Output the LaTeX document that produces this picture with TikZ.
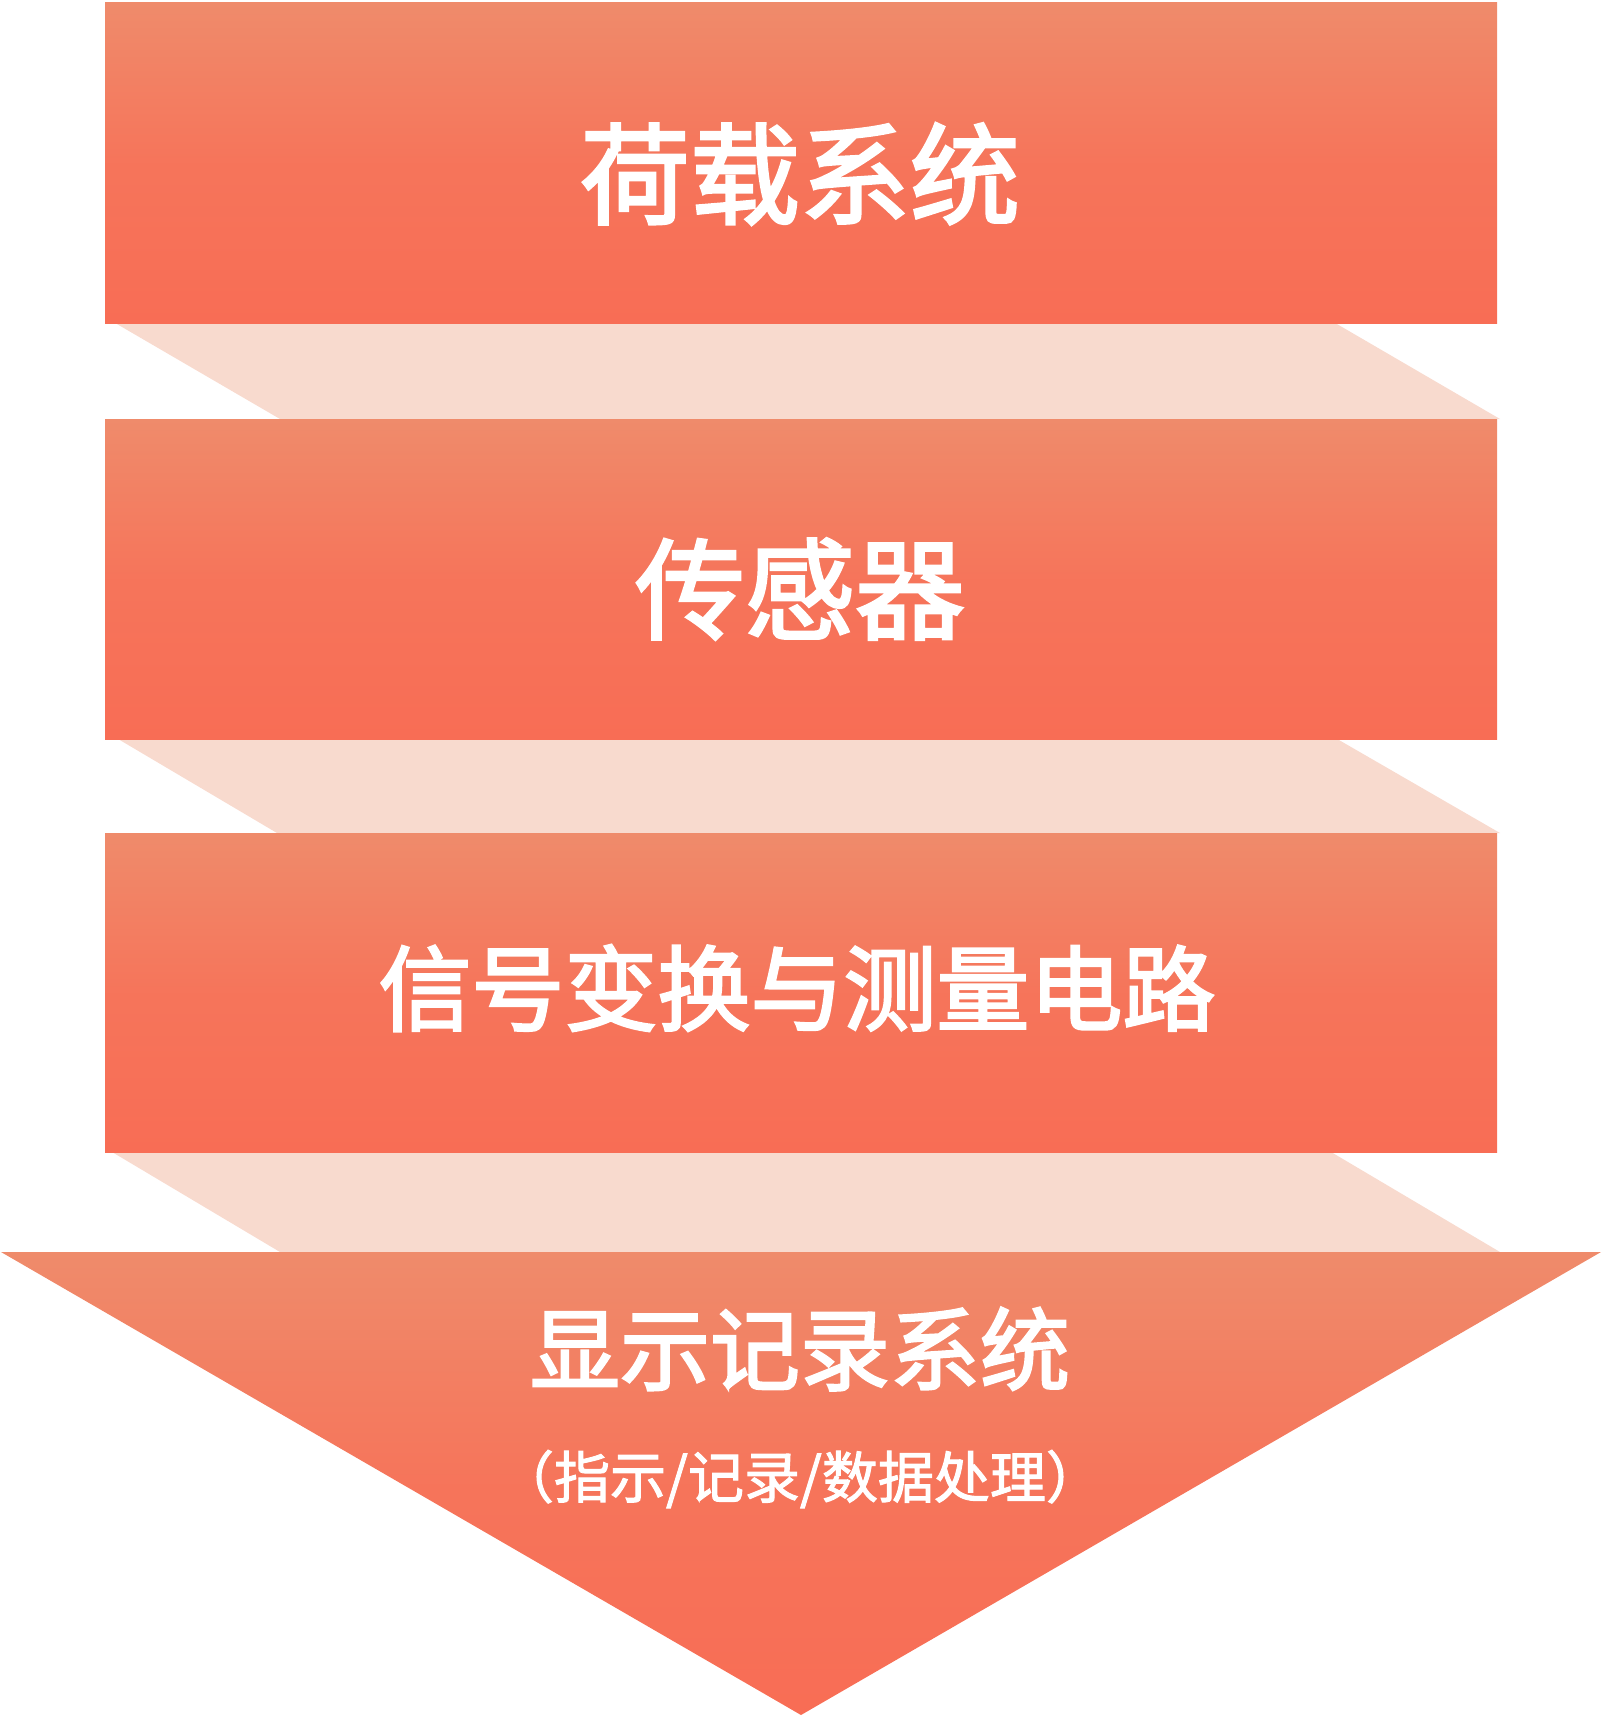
\documentclass[tikz,border=0pt]{standalone}
\usepackage{fontspec}
\newfontfamily\cjk{Noto Sans CJK SC}[FakeBold=2.5]
\newfontfamily\cjksub{Noto Sans CJK SC}[FakeBold=1.8]
\definecolor{cTop}{HTML}{EF8B6B}
\definecolor{cBot}{HTML}{F86D55}
\definecolor{cBand}{HTML}{F8DACE}
\tikzset{
  boxshade/.style={top color=cTop, bottom color=cBot, middle color=cBot!75!cTop, draw=none},
  bandfill/.style={fill=cBand, draw=none},
  titletext/.style={text=white, inner sep=0pt, font=\cjk\fontsize{110}{120}\selectfont},
  midtext/.style={text=white, inner sep=0pt, font=\cjk\fontsize{93}{100}\selectfont},
  lowtext/.style={text=white, inner sep=0pt, font=\cjk\fontsize{90}{100}\selectfont},
  subtext/.style={text=white, inner sep=0pt, font=\cjksub\fontsize{56}{64}\selectfont}
}
\begin{document}
\begin{tikzpicture}[x=1pt,y=1pt]
\useasboundingbox (0,0) rectangle (1601,-1723);
% connecting bands
\fill[bandfill] (110,-320) -- (1330,-320) -- (1500,-419) -- (280,-419) -- cycle;
\fill[bandfill] (113,-736) -- (1332,-736) -- (1500,-833) -- (277,-833) -- cycle;
\fill[bandfill] (107,-1149) -- (1326,-1149) -- (1500,-1252) -- (280,-1252) -- cycle;
% boxes
\shade[boxshade] (105,-3) rectangle (1497,-323);
\shade[boxshade] (105,-419) rectangle (1497,-739);
\shade[boxshade] (105,-833) rectangle (1497,-1152);
% final arrow
\shade[boxshade] (1,-1252) -- (1601,-1252) -- (801,-1715) -- cycle;
% texts
\node[titletext] (t1) at (800,-174) {荷载系统};
\node[titletext] (t2) at (800,-589) {传感器};
\node[midtext] (t3) at (797,-988) {信号变换与测量电路};
\node[lowtext] (t4) at (800,-1349) {显示记录系统};
\node[subtext] (t5) at (800,-1479) {（指示/记录/数据处理）};
\end{tikzpicture}
\end{document}
